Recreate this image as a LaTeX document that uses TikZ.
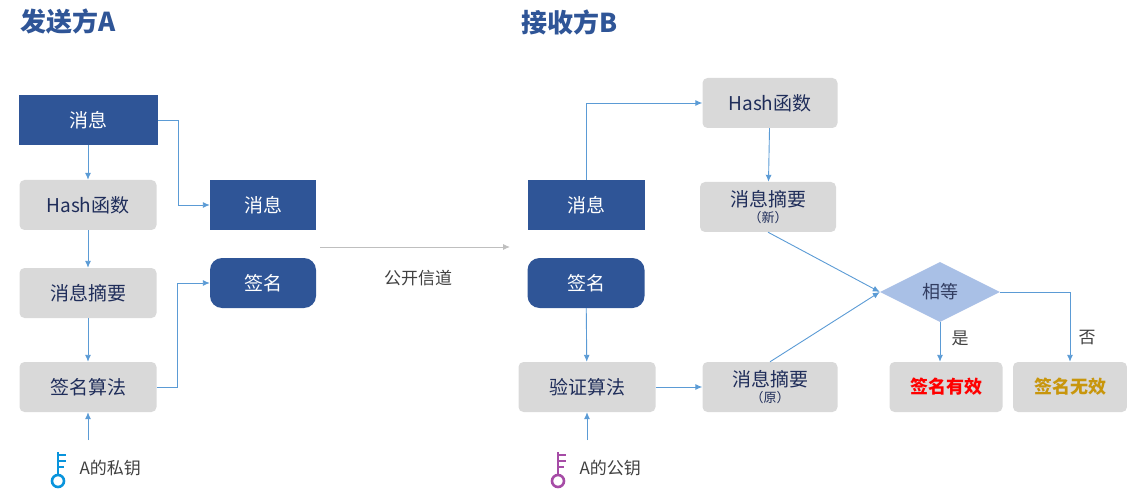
\documentclass[tikz,border=0pt]{standalone}
\usepackage{fontspec}
\setmainfont{Noto Sans CJK SC}
\usetikzlibrary{positioning,calc,arrows,arrows.meta,shapes.geometric}

\definecolor{navy}{HTML}{2F5597}
\definecolor{greybox}{HTML}{D9D9D9}
\definecolor{txtdark}{HTML}{1F2D5A}
\definecolor{linkblue}{HTML}{5B9BD5}
\definecolor{diabg}{HTML}{A9C0E6}
\definecolor{gold}{HTML}{C8960C}

\tikzset{
	darkbox/.style={fill=navy, text=white, minimum width=106pt, minimum height=50pt, font=\fontsize{19}{21}\selectfont},
	greyproc/.style={fill=greybox, rounded corners=5pt, text=txtdark, minimum width=137pt, minimum height=50pt, align=center, font=\fontsize{19}{21}\selectfont},
	link/.style={draw=linkblue, line width=0.9pt, -{Latex[length=7pt,width=6pt]}},
}

\begin{document}
\begin{tikzpicture}[x=1pt, y=-1pt]
	\useasboundingbox (0,0) rectangle (1127,489);

	\node[text=navy, font=\fontsize{26}{28}\selectfont\bfseries] (titA) at (68, 22)  {发送方A};
	\node[text=navy, font=\fontsize{26}{28}\selectfont\bfseries] (titB) at (570, 22) {接收方B};

	% sender A
	\node[darkbox, minimum width=139pt] (msgA) at (88, 120) {消息};
	\node[greyproc] (hashA) at (88, 205) {Hash函数};
	\node[greyproc] (digA)  at (88, 293) {消息摘要};
	\node[greyproc] (sign)  at (88, 387) {签名算法};
	\node[darkbox] (msgA2) at (263, 205) {消息};
	\node[darkbox, rounded corners=12pt] (sigA) at (263, 283) {签名};
	\coordinate (keyAin) at (88, 440);

	% receiver B
	\node[darkbox, minimum width=117pt] (msgB) at (586, 205) {消息};
	\node[darkbox, minimum width=117pt, rounded corners=12pt] (sigB) at (586, 283) {签名};
	\node[greyproc] (verify) at (587, 387) {验证算法};
	\coordinate (keyBin) at (587, 440);
	\node[greyproc, minimum width=135pt] (hashB)  at (770, 103) {Hash函数};
	\node[greyproc, minimum width=136pt] (digNew) at (768, 207) {消息摘要\\[-5pt]{\fontsize{13}{14}\selectfont （新）}};
	\node[greyproc, minimum width=135pt] (digOld) at (770, 387) {消息摘要\\[-5pt]{\fontsize{13}{14}\selectfont （原）}};
	\node[diamond, fill=diabg, minimum width=120pt, minimum height=60pt, inner sep=0pt, aspect=2, text=txtdark!80!gray, font=\fontsize{18}{20}\selectfont] (eq) at (940, 292) {相等};
	\node[greyproc, minimum width=113pt, text=red, font=\fontsize{18}{20}\selectfont\bfseries] (valid) at (946, 387) {签名有效};
	\node[greyproc, minimum width=114pt, text=gold, font=\fontsize{18}{20}\selectfont\bfseries] (invalid) at (1070, 387) {签名无效};

	% channel
	\coordinate (chA) at (320, 247);
	\coordinate (chB) at (510, 247);
	\draw[draw=gray!50, line width=0.9pt, -{Latex[length=7pt,width=6pt]}, fill=gray!50] (chA) -- (chB);
	\node[text=black!75, font=\fontsize{17}{19}\selectfont] (chan) at (418, 278) {公开信道};

	\draw[link] (msgA) -- (hashA);
	\draw[link] (hashA) -- (digA);
	\draw[link] (digA) -- (sign);
	\draw[link] (keyAin) -- (sign);
	\draw[link] (msgA.east) -- ++(21,0) |- (msgA2.west);
	\draw[link] (sign.east) -- ++(21,0) |- (sigA.west);

	\draw[link] (msgB.north) |- (hashB.west);
	\draw[link] (hashB) -- (digNew);
	\draw[link] (sigB) -- (verify);
	\draw[link] (keyBin) -- (verify);
	\draw[link] (verify) -- (digOld);
	\draw[link] (digNew.south) -- (eq.west);
	\draw[link] (digOld.north) -- (eq.west);
	\draw[link] (eq.south) -- (valid.north -| eq.south);
	\draw[link] (eq.east) -| (invalid.north);
	\node[text=black!75, font=\fontsize{17}{19}\selectfont] (yes) at (960, 338) {是};
	\node[text=black!75, font=\fontsize{17}{19}\selectfont] (no)  at (1087, 338) {否};

	% keys
	\foreach \kx/\kc/\kn/\kt in {58/cyan!80!blue/keyA/A的私钥, 558/violet!70/keyB/A的公钥} {
		\draw[\kc, line width=2.6pt] (\kx, 452) -- (\kx, 476);
		\draw[\kc, line width=2pt] (\kx, 455) -- ++(8,0) (\kx, 461) -- ++(8,0) (\kx, 467) -- ++(6,0);
		\draw[\kc, line width=2.6pt] (\kx, 481) circle (6pt);
		\node[anchor=west, text=black!75, font=\fontsize{17}{19}\selectfont] (\kn) at (\kx+18, 468) {\kt};
	}
\end{tikzpicture}
\end{document}
